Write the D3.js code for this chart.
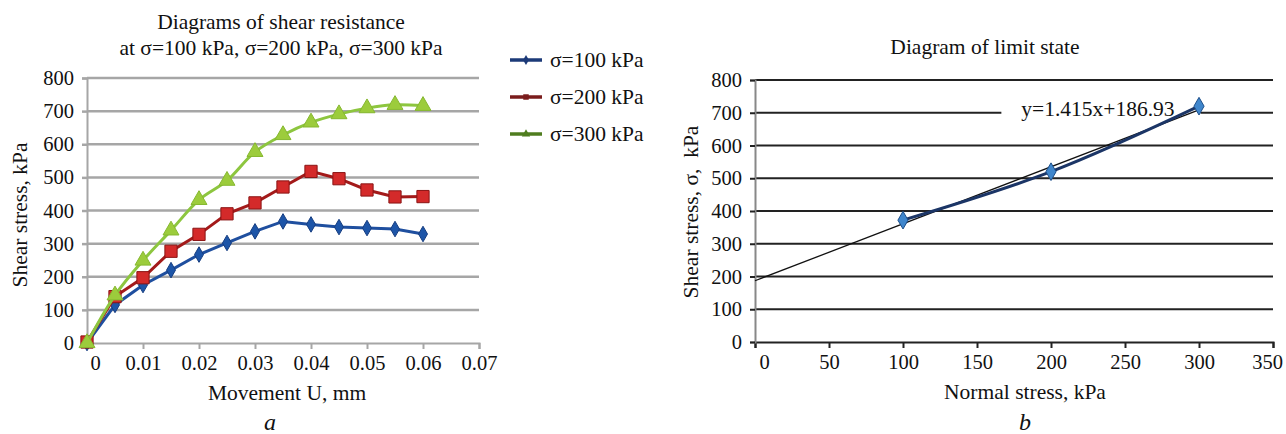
<!DOCTYPE html>
<html>
<head>
<meta charset="utf-8">
<style>
  body { margin: 0; background: #fff; }
  svg text { font-family: "Liberation Serif", "Times New Roman", serif; fill: #111; }
</style>
</head>
<body>
<svg id="chart" width="1286" height="434"></svg>
<script src="https://cdn.jsdelivr.net/npm/d3@7/dist/d3.min.js"></script>
<script>
// ---------- data, panel a
const movement = [0, 0.005, 0.01, 0.015, 0.02, 0.025, 0.03, 0.035, 0.04, 0.045, 0.05, 0.055, 0.06];
const shear100 = [0, 115, 175, 220, 267, 302, 337, 367, 358, 350, 347, 344, 329];
const shear200 = [3, 140, 197, 277, 328, 390, 423, 471, 518, 496, 462, 441, 442];
const shear300 = [0, 144, 249, 340, 432, 490, 577, 628, 666, 691, 709, 719, 716];
const seriesNames = ["σ=100 kPa", "σ=200 kPa", "σ=300 kPa"];
const movementTicks = [0, 0.01, 0.02, 0.03, 0.04, 0.05, 0.06, 0.07];
const shearTicks = [0, 100, 200, 300, 400, 500, 600, 700, 800];

// ---------- data, panel b
const normalStress = [100, 200, 300];
const limitShear = [372, 520, 720];
const trendX = [0, 300];
const trendY = [187, 709];
const trendLabel = "y=1.415x+186.93";
const normalTicks = [0, 50, 100, 150, 200, 250, 300, 350];

const svg = d3.select("#chart");
const fmtTick = d => d === 0 ? "0" : String(d);
const tickFont = 20.5, labelFont = 21.5;

// ================= panel a =================
const A = {x0: 87, x1: 479, y0: 78, y1: 343};
const xA = d3.scaleLinear().domain([0, 0.07]).range([A.x0, A.x1]);
const yA = d3.scaleLinear().domain([0, 800]).range([A.y1, A.y0]);
const gA = svg.append("g");

gA.selectAll(".gridA")
  .data(shearTicks.filter(d => d > 0))
  .enter().append("line")
    .attr("x1", A.x0).attr("x2", A.x1)
    .attr("y1", d => yA(d)).attr("y2", d => yA(d))
    .attr("stroke", "#a6a6a6").attr("stroke-width", 2.5);

let ax = gA.append("g")
  .attr("transform", "translate(0," + A.y1 + ")")
  .call(d3.axisBottom(xA).tickValues(movementTicks).tickSize(6).tickPadding(6)
    .tickFormat(d => d === 0 ? "0" : d3.format(".2f")(d)));
ax.selectAll("text").attr("font-size", tickFont).attr("dx", d => d === 0 ? 8 : 0);
ax.select(".domain").attr("stroke", "#a6a6a6").attr("stroke-width", 2);
ax.selectAll(".tick line").attr("stroke", "#a6a6a6").attr("stroke-width", 2);

let ay = gA.append("g")
  .attr("transform", "translate(" + A.x0 + ",0)")
  .call(d3.axisLeft(yA).tickValues(shearTicks).tickSize(5).tickPadding(8).tickFormat(fmtTick));
ay.selectAll("text").attr("font-size", tickFont);
ay.select(".domain").attr("stroke", "#a6a6a6").attr("stroke-width", 2);
ay.selectAll(".tick line").attr("stroke", "#a6a6a6").attr("stroke-width", 2.5);

const styles = [
  {line: "#1f4f9f", fill: "#1d55a8", stroke: "#163d80", shape: d3.symbolDiamond, size: 70, curve: d3.curveLinear, legLine: "#1c3a78"},
  {line: "#a31a1a", fill: "#d42a2a", stroke: "#8a1414", shape: d3.symbolSquare, size: 150, curve: d3.curveLinear, legLine: "#7a1c1c"},
  {line: "#8dc63f", fill: "#9ccc3c", stroke: "#86b830", shape: d3.symbolTriangle, size: 110, curve: d3.curveCatmullRom, legLine: "#4f7d1f"}
];
const allSeries = [shear100, shear200, shear300];

allSeries.forEach((vals, i) => {
  const pts = movement.map((m, j) => ({x: m, y: vals[j]}));
  const st = styles[i];
  gA.append("path")
    .datum(pts)
    .attr("d", d3.line().x(d => xA(d.x)).y(d => yA(d.y)).curve(st.curve))
    .attr("fill", "none").attr("stroke", st.line).attr("stroke-width", 3);
  gA.selectAll(".mk" + i)
    .data(pts)
    .enter().append("path")
      .attr("transform", d => "translate(" + xA(d.x) + "," + yA(d.y) + ")")
      .attr("d", d3.symbol().type(st.shape).size(st.size))
      .attr("fill", st.fill).attr("stroke", st.stroke).attr("stroke-width", 1);
});

// legend
const leg = gA.selectAll(".leg").data(seriesNames).enter().append("g")
  .attr("transform", (d, i) => "translate(510," + (60 + i * 37) + ")");
leg.append("line").attr("x1", 0).attr("x2", 32).attr("y1", 0).attr("y2", 0)
  .attr("stroke", (d, i) => styles[i].legLine).attr("stroke-width", 3.5);
leg.append("path").attr("transform", "translate(16,0)")
  .attr("d", (d, i) => d3.symbol().type(styles[i].shape).size(30)())
  .attr("fill", (d, i) => styles[i].legLine);
leg.append("text").attr("x", 40).attr("y", 7).attr("font-size", labelFont).text(d => d);

gA.append("text").attr("x", 281).attr("y", 29).attr("text-anchor", "middle")
  .attr("font-size", labelFont).text("Diagrams of shear resistance");
gA.append("text").attr("x", 281).attr("y", 55).attr("text-anchor", "middle")
  .attr("font-size", labelFont).text("at σ=100 kPa, σ=200 kPa, σ=300 kPa");
gA.append("text").attr("transform", "translate(27,215) rotate(-90)").attr("text-anchor", "middle")
  .attr("font-size", labelFont).text("Shear stress, kPa");
gA.append("text").attr("x", 287).attr("y", 400).attr("text-anchor", "middle")
  .attr("font-size", labelFont).text("Movement U, mm");
gA.append("text").attr("x", 270).attr("y", 430).attr("text-anchor", "middle")
  .attr("font-size", 24).attr("font-style", "italic").text("a");

// ================= panel b =================
const B = {x0: 755, x1: 1273, y0: 80, y1: 342};
const xB = d3.scaleLinear().domain([0, 350]).range([B.x0, B.x1]);
const yB = d3.scaleLinear().domain([0, 800]).range([B.y1, B.y0]);
const gB = svg.append("g");

gB.selectAll(".gridB")
  .data(shearTicks.filter(d => d > 0))
  .enter().append("line")
    .attr("x1", B.x0).attr("x2", B.x1)
    .attr("y1", d => yB(d)).attr("y2", d => yB(d))
    .attr("stroke", "#222").attr("stroke-width", 2);

let bx = gB.append("g")
  .attr("transform", "translate(0," + B.y1 + ")")
  .call(d3.axisBottom(xB).tickValues(normalTicks).tickSize(6).tickPadding(6).tickFormat(fmtTick));
bx.selectAll("text").attr("font-size", tickFont)
  .attr("dx", d => d === 0 ? 9 : (d === 350 ? -6 : 0));
bx.select(".domain").attr("stroke", "#222").attr("stroke-width", 2);
bx.selectAll(".tick line").attr("stroke", "#222").attr("stroke-width", 2);

let by = gB.append("g")
  .attr("transform", "translate(" + B.x0 + ",0)")
  .call(d3.axisLeft(yB).tickValues(shearTicks).tickSize(5).tickPadding(8).tickFormat(fmtTick));
by.selectAll("text").attr("font-size", tickFont);
by.select(".domain").attr("stroke", "#888").attr("stroke-width", 2);
by.selectAll(".tick line").attr("stroke", "#222").attr("stroke-width", 2);

// equation label with white box over the grid
const eqG = gB.append("g");
const eqText = eqG.append("text").attr("x", 1098).attr("y", 116).attr("text-anchor", "middle")
  .attr("font-size", labelFont).text(trendLabel);
const bb = eqText.node().getBBox();
eqG.insert("rect", "text").attr("x", bb.x - 20).attr("y", bb.y).attr("width", bb.width + 46)
  .attr("height", bb.height).attr("fill", "#fff");

// trend line
gB.append("path")
  .datum(trendX.map((x, i) => ({x: x, y: trendY[i]})))
  .attr("d", d3.line().x(d => xB(d.x)).y(d => yB(d.y)))
  .attr("fill", "none").attr("stroke", "#111").attr("stroke-width", 1.3);

const limPts = normalStress.map((n, i) => ({x: n, y: limitShear[i]}));
gB.append("path")
  .datum(limPts)
  .attr("d", d3.line().x(d => xB(d.x)).y(d => yB(d.y)).curve(d3.curveCatmullRom))
  .attr("fill", "none").attr("stroke", "#1b3566").attr("stroke-width", 3);
gB.selectAll(".mkB").data(limPts).enter().append("path")
  .attr("transform", d => "translate(" + xB(d.x) + "," + yB(d.y) + ")")
  .attr("d", d3.symbol().type(d3.symbolDiamond).size(90))
  .attr("fill", "#3f86cc").attr("stroke", "#1d4f8a").attr("stroke-width", 1);

gB.append("text").attr("x", 985).attr("y", 54).attr("text-anchor", "middle")
  .attr("font-size", labelFont).text("Diagram of limit state");
gB.append("text").attr("transform", "translate(698,212) rotate(-90)").attr("text-anchor", "middle")
  .attr("font-size", labelFont).style("white-space", "pre").text("Shear stress, σ,  kPa");
gB.append("text").attr("x", 1025).attr("y", 399).attr("text-anchor", "middle")
  .attr("font-size", labelFont).text("Normal stress, kPa");
gB.append("text").attr("x", 1025).attr("y", 430).attr("text-anchor", "middle")
  .attr("font-size", 24).attr("font-style", "italic").text("b");
</script>
</body>
</html>
